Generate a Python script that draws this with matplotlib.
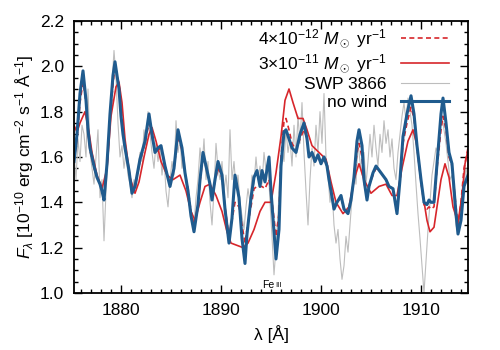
import numpy as np
import matplotlib
matplotlib.use("Agg")
from matplotlib import pyplot as plt
from matplotlib.ticker import MultipleLocator

plt.rcParams['font.family'] = ['Liberation Sans', 'DejaVu Sans']
plt.rcParams['mathtext.fontset'] = 'custom'
plt.rcParams['mathtext.rm'] = 'Liberation Sans'
plt.rcParams['mathtext.it'] = 'Liberation Sans:italic'

# observed spectrum SWP 3866, 0.2 A steps from 1875.3 A
swp_start, swp_step = 1875.3, 0.2
swp_flux = [
    1.62, 1.50, 1.68, 1.58, 1.74, 1.70, 1.60, 1.90, 1.62, 1.55,
    1.48, 1.60, 1.72, 1.42, 1.50, 1.23, 1.45, 1.60, 1.75, 1.92,
    2.07, 1.95, 1.75, 1.60, 1.65, 1.55, 1.62, 1.52, 1.48, 1.42,
    1.50, 1.46, 1.55, 1.62, 1.58, 1.72, 1.66, 1.80, 1.70, 1.62,
    1.55, 1.66, 1.58, 1.64, 1.52, 1.60, 1.45, 1.38, 1.50, 1.58,
    1.52, 1.76, 1.62, 1.68, 1.55, 1.60, 1.50, 1.44, 1.38, 1.34,
    1.30, 1.42, 1.50, 1.64, 1.55, 1.68, 1.50, 1.58, 1.40, 1.30,
    1.45, 1.66, 1.55, 1.50, 1.58, 1.45, 1.52, 1.42, 1.72, 1.50,
    1.58, 1.46, 1.52, 1.40, 1.34, 1.28, 1.38, 1.46, 1.40, 1.52,
    1.48, 1.60, 1.50, 1.56, 1.48, 1.62, 1.54, 1.58, 1.40, 1.25,
    1.08, 1.20, 1.35, 1.52, 1.64, 1.58, 1.72, 1.62, 1.68, 1.56,
    1.74, 1.60, 1.78, 1.66, 1.84, 1.62, 1.45, 1.30, 1.50, 1.64,
    1.56, 1.74, 1.62, 1.80, 1.66, 1.88, 1.60, 1.52, 1.40, 1.46,
    1.30, 1.22, 1.28, 1.15, 1.06, 1.12, 1.25, 1.18, 1.30, 1.42,
    1.55, 1.48, 1.66, 1.58, 1.52, 1.62, 1.48, 1.58, 1.70, 1.60,
    1.74, 1.64, 1.56, 1.70, 1.62, 1.76, 1.66, 1.72, 1.60, 1.68,
    1.55, 1.50, 1.62, 1.70, 1.78, 1.84, 1.76, 1.86, 1.80, 1.74,
    1.62, 1.48, 1.35, 1.24, 1.12, 1.00, 1.14, 1.28, 1.40, 1.52,
    1.58, 1.64, 1.62, 1.74, 1.78, 1.72, 1.66, 1.58, 1.50, 1.52,
    1.40, 1.30, 1.26, 1.34, 1.42, 1.48, 1.55, 1.50,
]

# model without wind and with 4e-12 Msun/yr (same wavelength grid)
model_wl = [
    1875.3, 1875.6, 1875.9, 1876.2, 1876.5, 1876.7, 1876.9, 1877.1, 1877.3, 1877.6,
    1877.9, 1878.1, 1878.3, 1878.6, 1878.9, 1879.2, 1879.4, 1879.6, 1879.8, 1880.0,
    1880.2, 1880.4, 1880.8, 1881.1, 1881.4, 1881.9, 1882.4, 1882.8, 1883.1, 1883.4,
    1883.7, 1884.0, 1884.4, 1884.9, 1885.3, 1885.7, 1886.1, 1886.4, 1886.7, 1887.0,
    1887.3, 1887.7, 1887.9, 1888.2, 1888.6, 1888.9, 1889.1, 1889.4, 1889.7, 1890.1,
    1890.4, 1890.8, 1891.1, 1891.4, 1891.8, 1892.1, 1892.4, 1892.6, 1893.0, 1893.3,
    1893.6, 1893.9, 1894.1, 1894.4, 1894.8, 1895.0, 1895.3, 1895.5, 1895.8, 1896.0,
    1896.3, 1896.5, 1896.8, 1897.1, 1897.5, 1897.9, 1898.3, 1898.6, 1898.8, 1899.1,
    1899.4, 1899.7, 1900.0, 1900.3, 1900.6, 1900.8, 1901.0, 1901.3, 1901.6, 1902.0,
    1902.3, 1902.7, 1903.0, 1903.3, 1903.6, 1903.8, 1904.1, 1904.3, 1904.6, 1904.8,
    1905.2, 1905.5, 1906.0, 1906.5, 1906.8, 1907.2, 1907.6, 1907.9, 1908.2, 1908.6,
    1909.0, 1909.3, 1909.6, 1910.0, 1910.3, 1910.6, 1910.8, 1911.0, 1911.3, 1911.6,
    1912.0, 1912.2, 1912.5, 1912.8, 1913.1, 1913.5, 1913.7, 1914.0, 1914.3, 1914.7,
]
nowind_flux = [
    1.58, 1.70, 1.88, 1.98, 1.85, 1.72, 1.64, 1.60, 1.56, 1.51,
    1.48, 1.45, 1.41, 1.57, 1.79, 1.96, 2.02, 1.96, 1.90, 1.78,
    1.70, 1.64, 1.54, 1.44, 1.47, 1.59, 1.67, 1.79, 1.70, 1.62,
    1.64, 1.65, 1.56, 1.47, 1.55, 1.72, 1.64, 1.53, 1.45, 1.34,
    1.27, 1.39, 1.50, 1.62, 1.54, 1.48, 1.41, 1.50, 1.58, 1.52,
    1.37, 1.22, 1.33, 1.52, 1.42, 1.24, 1.13, 1.26, 1.42, 1.51,
    1.54, 1.47, 1.54, 1.49, 1.60, 1.45, 1.27, 1.15, 1.28, 1.56,
    1.71, 1.72, 1.68, 1.64, 1.62, 1.70, 1.75, 1.68, 1.60, 1.62,
    1.58, 1.61, 1.57, 1.60, 1.56, 1.50, 1.45, 1.37, 1.40, 1.43,
    1.37, 1.35, 1.41, 1.51, 1.67, 1.72, 1.65, 1.50, 1.41, 1.47,
    1.53, 1.56, 1.53, 1.50, 1.47, 1.46, 1.35, 1.50, 1.69, 1.79,
    1.87, 1.79, 1.65, 1.50, 1.40, 1.39, 1.41, 1.40, 1.40, 1.57,
    1.79, 1.86, 1.75, 1.62, 1.57, 1.35, 1.26, 1.32, 1.47, 1.52,
]
low_wind_flux = [
    1.58, 1.68, 1.84, 1.93, 1.84, 1.71, 1.63, 1.59, 1.55, 1.51,
    1.48, 1.45, 1.42, 1.56, 1.76, 1.92, 2.00, 1.97, 1.92, 1.82,
    1.71, 1.64, 1.54, 1.45, 1.47, 1.58, 1.66, 1.75, 1.69, 1.62,
    1.63, 1.64, 1.56, 1.48, 1.55, 1.69, 1.63, 1.53, 1.46, 1.36,
    1.30, 1.39, 1.49, 1.60, 1.54, 1.48, 1.43, 1.49, 1.55, 1.51,
    1.38, 1.25, 1.32, 1.40, 1.38, 1.30, 1.22, 1.28, 1.38, 1.46,
    1.47, 1.47, 1.47, 1.46, 1.50, 1.44, 1.33, 1.25, 1.35, 1.60,
    1.76, 1.77, 1.72, 1.66, 1.63, 1.68, 1.72, 1.68, 1.60, 1.61,
    1.58, 1.60, 1.57, 1.59, 1.56, 1.50, 1.45, 1.38, 1.40, 1.42,
    1.37, 1.36, 1.41, 1.50, 1.62, 1.66, 1.60, 1.49, 1.42, 1.47,
    1.52, 1.55, 1.53, 1.50, 1.47, 1.46, 1.37, 1.49, 1.66, 1.75,
    1.82, 1.77, 1.64, 1.49, 1.39, 1.37, 1.38, 1.37, 1.38, 1.55,
    1.72, 1.78, 1.72, 1.60, 1.56, 1.38, 1.30, 1.40, 1.55, 1.64,
]

# model with 3e-11 Msun/yr
high_wind_wl = [
    1875.3, 1875.6, 1875.9, 1876.4, 1876.8, 1877.1, 1877.6, 1878.1, 1878.6, 1879.0,
    1879.5, 1879.8, 1880.1, 1880.4, 1880.9, 1881.4, 1881.8, 1882.3, 1882.8, 1883.1,
    1883.5, 1884.0, 1884.6, 1885.2, 1885.9, 1886.5, 1887.0, 1887.4, 1887.9, 1888.4,
    1888.9, 1889.5, 1890.1, 1890.6, 1891.0, 1891.6, 1892.2, 1892.7, 1893.3, 1893.9,
    1894.4, 1895.0, 1895.5, 1896.0, 1896.4, 1896.8, 1897.2, 1897.7, 1898.2, 1898.6,
    1899.1, 1899.8, 1900.5, 1901.0, 1901.5, 1902.2, 1902.8, 1903.3, 1903.8, 1904.3,
    1905.0, 1905.8, 1906.5, 1907.1, 1907.6, 1908.1, 1908.7, 1909.2, 1909.6, 1910.1,
    1910.6, 1910.9, 1911.3, 1911.6, 1912.0, 1912.4, 1912.8, 1913.2, 1913.7, 1914.1,
    1914.4, 1914.7,
]
high_wind_flux = [
    1.74, 1.71, 1.75, 1.80, 1.71, 1.62, 1.52, 1.46, 1.55, 1.78,
    1.91, 1.93, 1.84, 1.68, 1.51, 1.44, 1.49, 1.60, 1.70, 1.73,
    1.67, 1.58, 1.52, 1.50, 1.52, 1.45, 1.36, 1.32, 1.40, 1.47,
    1.48, 1.43, 1.36, 1.27, 1.22, 1.21, 1.20, 1.22, 1.28, 1.36,
    1.40, 1.40, 1.53, 1.69, 1.85, 1.90, 1.84, 1.77, 1.77, 1.72,
    1.65, 1.62, 1.59, 1.49, 1.40, 1.35, 1.38, 1.50, 1.57, 1.50,
    1.44, 1.47, 1.48, 1.43, 1.43, 1.55, 1.67, 1.72, 1.65, 1.46,
    1.32, 1.27, 1.29, 1.38, 1.50, 1.57, 1.51, 1.38, 1.31, 1.43,
    1.57, 1.63,
]

blue = '#1f5b8e'
red = '#d7262b'

swp_wl = swp_start + swp_step * np.arange(len(swp_flux))

fig, ax = plt.subplots(figsize=(5, 3.5), dpi=100)
fig.subplots_adjust(left=0.148, right=0.936, bottom=0.163, top=0.94)

l_swp, = ax.plot(swp_wl, swp_flux, color='#bdbdbd', lw=0.8)
l_hi, = ax.plot(high_wind_wl, high_wind_flux, color=red, lw=1.2)
l_lo, = ax.plot(model_wl, low_wind_flux, color=red, lw=1.2, ls=(0, (3, 2)))
l_nw, = ax.plot(model_wl, nowind_flux, color=blue, lw=2.2)

ax.set_xlim(1875.3, 1914.7)
ax.set_ylim(1.0, 2.2)
ax.xaxis.set_major_locator(MultipleLocator(10))
ax.xaxis.set_minor_locator(MultipleLocator(1))
ax.yaxis.set_major_locator(MultipleLocator(0.2))
ax.yaxis.set_minor_locator(MultipleLocator(0.05))
ax.yaxis.set_major_formatter(matplotlib.ticker.FormatStrFormatter('%.1f'))
ax.tick_params(which='both', direction='in', top=True, right=True, labelsize=12.5, width=1)
ax.tick_params(which='major', length=6, pad=7)
ax.tick_params(which='minor', length=3)
for s in ax.spines.values():
    s.set_linewidth(1.3)

ax.set_xlabel('λ [Å]', fontsize=12.5, labelpad=5)
ax.set_ylabel(r'$F_\lambda$ [10$^{-10}$ erg cm$^{-2}$ s$^{-1}$ Å$^{-1}$]', fontsize=12.5, labelpad=3)

ax.text(1895.3, 1.035, 'Fe', fontsize=7.5, ha='right', va='center')
ax.text(1895.45, 1.033, 'III', fontsize=5.5, ha='left', va='center')

ax.legend([l_lo, l_hi, l_swp, l_nw],
          [r'4×10$^{-12}$ $M_\odot$ yr$^{-1}$', r'3×10$^{-11}$ $M_\odot$ yr$^{-1}$',
           'SWP 3866', 'no wind'],
          loc='upper right', frameon=False, markerfirst=False, fontsize=12.5,
          handlelength=2.8, handletextpad=0.8, labelspacing=0.12,
          borderaxespad=0.0, bbox_to_anchor=(0.97, 1.0))

plt.savefig('out.png')
